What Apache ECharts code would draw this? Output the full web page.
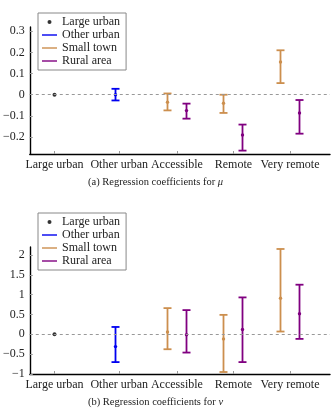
<!DOCTYPE html>
<html>
<head>
<meta charset="utf-8">
<script src="https://cdn.jsdelivr.net/npm/echarts@6/dist/echarts.min.js"></script>
<style>
  html, body { margin: 0; padding: 0; background: #fff; }
  #main { width: 332px; height: 411px; }
</style>
</head>
<body>
<div id="main"></div>
<script>
// categories and where their ticks sit on the x axis
var categories = ['Large urban', 'Other urban', 'Accessible', 'Remote', 'Very remote'];
var catPos = [1, 2.1, 3.08, 4.04, 5];

// [low, estimate, high] per category
// (a) mu
var muOtherUrban = [[-0.027, 0.0, 0.028]];
var muSmallTown = [[-0.074, -0.035, 0.006], [-0.086, -0.04, 0.0], [0.055, 0.155, 0.21]];
var muRural = [[-0.113, -0.075, -0.042], [-0.264, -0.19, -0.141], [-0.184, -0.086, -0.025]];
// (b) nu
var nuOtherUrban = [[-0.70, -0.31, 0.185]];
var nuSmallTown = [[-0.376, 0.06, 0.66], [-0.95, -0.115, 0.49], [0.07, 0.91, 2.15]];
var nuRural = [[-0.46, -0.01, 0.61], [-0.70, 0.12, 0.93], [-0.115, 0.52, 1.25]];

var muTicks = [-0.2, -0.1, 0, 0.1, 0.2, 0.3];
var nuTicks = [-1, -0.5, 0, 0.5, 1, 1.5, 2];

var FONT = 'Liberation Serif';
var BLUE = '#0000f0', TAN = '#cc8f4e', PURPLE = '#800080';

function fmtNum(v) {
	if (v < 0) return '\u2212' + String(Math.abs(v));
	return String(v);
}

function catName(v) {
	for (var i = 0; i < catPos.length; i++) {
		if (Math.abs(catPos[i] - v) < 1e-6) return categories[i];
	}
	return '';
}

// build [x, low, mid, high] rows, starting at category index "first"
function rows(list, first) {
	var out = [];
	for (var i = 0; i < list.length; i++) {
		out.push([catPos[first + i], list[i][0], list[i][1], list[i][2]]);
	}
	return out;
}

// error bar drawer, shifted a few pixels sideways per series
function errorBar(shift) {
	return function (params, api) {
		var x = api.value(0);
		var pLo = api.coord([x, api.value(1)]);
		var pMid = api.coord([x, api.value(2)]);
		var pHi = api.coord([x, api.value(3)]);
		var cx = Math.round(pLo[0] + shift) + 0.5;
		var col = api.visual('color');
		var st = { stroke: col, lineWidth: 1.8, fill: null };
		return {
			type: 'group',
			children: [
				{ type: 'line', shape: { x1: cx, y1: pLo[1], x2: cx, y2: pHi[1] }, style: st },
				{ type: 'line', shape: { x1: cx - 4, y1: pLo[1], x2: cx + 4, y2: pLo[1] }, style: st },
				{ type: 'line', shape: { x1: cx - 4, y1: pHi[1], x2: cx + 4, y2: pHi[1] }, style: st },
				{ type: 'circle', shape: { cx: cx, cy: pMid[1], r: 1.7 }, style: { fill: col } }
			]
		};
	};
}

function xAxisFor(idx) {
	return {
		type: 'value', gridIndex: idx, min: 0.58, max: 5.68,
		axisLine: { onZero: false, lineStyle: { color: '#000', width: 1.4 } },
		axisTick: { show: true, inside: true, length: 3, customValues: catPos, lineStyle: { color: '#999' } },
		axisLabel: { customValues: catPos, formatter: catName, fontFamily: FONT, fontSize: 12, color: '#222', margin: 5 },
		splitLine: { show: false }
	};
}

function yAxisFor(idx, min, max, ticks) {
	return {
		type: 'value', gridIndex: idx, min: min, max: max,
		axisLine: { show: true, onZero: false, lineStyle: { color: '#000', width: 1.4 } },
		axisTick: { show: true, inside: true, length: 3, customValues: ticks, lineStyle: { color: '#999' } },
		axisLabel: { customValues: ticks, formatter: fmtNum, fontFamily: FONT, fontSize: 12, color: '#222', margin: 5 },
		splitLine: { show: false }
	};
}

var linePath = 'path://M0,0H15V1.4H0Z';

function legendFor(top) {
	return {
		orient: 'vertical', left: 38, top: top,
		padding: [3, 6, 3, 4],
		borderColor: '#888', borderWidth: 1, backgroundColor: '#fff',
		itemWidth: 15, itemHeight: 4, itemGap: 1,
		textStyle: { fontFamily: FONT, fontSize: 12, color: '#222' },
		data: [
			{ name: 'Large urban', icon: 'circle' },
			{ name: 'Other urban', icon: linePath },
			{ name: 'Small town', icon: linePath },
			{ name: 'Rural area', icon: linePath }
		]
	};
}

function panelSeries(idx, other, small, rural) {
	return [
		{
			name: 'Large urban', type: 'scatter', xAxisIndex: idx, yAxisIndex: idx,
			data: [[catPos[0], 0]], symbolSize: 4, itemStyle: { color: '#000' }, z: 3,
			markLine: {
				silent: true, symbol: 'none', label: { show: false },
				lineStyle: { type: [3, 3], color: '#999', width: 1 },
				data: [{ yAxis: 0 }]
			}
		},
		{
			name: 'Other urban', type: 'custom', xAxisIndex: idx, yAxisIndex: idx,
			itemStyle: { color: BLUE }, renderItem: errorBar(-4),
			encode: { x: 0, y: [1, 2, 3] }, data: rows(other, 1)
		},
		{
			name: 'Small town', type: 'custom', xAxisIndex: idx, yAxisIndex: idx,
			itemStyle: { color: TAN }, renderItem: errorBar(-10),
			encode: { x: 0, y: [1, 2, 3] }, data: rows(small, 2)
		},
		{
			name: 'Rural area', type: 'custom', xAxisIndex: idx, yAxisIndex: idx,
			itemStyle: { color: PURPLE }, renderItem: errorBar(9),
			encode: { x: 0, y: [1, 2, 3] }, data: rows(rural, 2)
		}
	];
}

var captionStyle = {
	fontFamily: FONT, fontSize: 10.5, fontWeight: 'normal', color: '#222',
	rich: { i: { fontFamily: FONT, fontSize: 10.5, fontStyle: 'italic', color: '#222' } }
};

var myChart = echarts.init(document.getElementById('main'), null, { renderer: 'canvas' });
var option = {
	animation: false,
	title: [
		{ text: '(a) Regression coefficients for {i|\u03bc}', left: 88, top: 177, padding: 0, textStyle: captionStyle },
		{ text: '(b) Regression coefficients for {i|\u03bd}', left: 88, top: 397, padding: 0, textStyle: captionStyle }
	],
	legend: [legendFor(13), legendFor(213)],
	grid: [
		{ left: 26, right: 2, top: 27, height: 127 },
		{ left: 26, right: 2, top: 247, height: 127 }
	],
	xAxis: [xAxisFor(0), xAxisFor(1)],
	yAxis: [yAxisFor(0, -0.28, 0.32, muTicks), yAxisFor(1, -1, 2.2, nuTicks)],
	series: panelSeries(0, muOtherUrban, muSmallTown, muRural)
		.concat(panelSeries(1, nuOtherUrban, nuSmallTown, nuRural))
};
myChart.setOption(option);
</script>
</body>
</html>
